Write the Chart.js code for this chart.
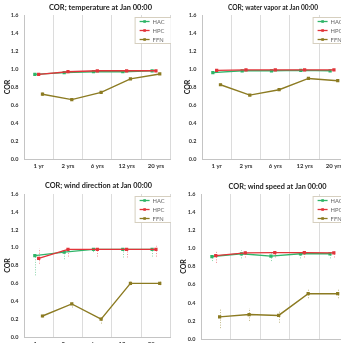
<!DOCTYPE html>
<html>
<head>
<meta charset="utf-8">
<script src="https://cdn.jsdelivr.net/npm/chart.js@4.4.0/dist/chart.umd.min.js"></script>
<style>
html, body { margin: 0; padding: 0; background: #fff; width: 341px; height: 343px; overflow: hidden; position: relative; }
canvas { position: absolute; }
</style>
</head>
<body>
<canvas id="c0" width="176" height="172" style="left:0px;top:0px"></canvas>
<canvas id="c1" width="183" height="172" style="left:171px;top:0px"></canvas>
<canvas id="c2" width="176" height="180" style="left:0px;top:171px"></canvas>
<canvas id="c3" width="183" height="180" style="left:171px;top:171px"></canvas>
<script>
var cats = ['1 yr', '2 yrs', '6 yrs', '12 yrs', '20 yrs'];
var names = ['HAC', 'HPC', 'FFN'];
var colors = ['#2fb468', '#e2343a', '#8c7b22'];

// temperature
var tempHAC = [0.94, 0.96, 0.97, 0.97, 0.98];
var tempHPC = [0.94, 0.97, 0.98, 0.98, 0.98];
var tempFFN = [0.72, 0.66, 0.74, 0.89, 0.945];
var tempFFNerr = [[0.70, 0.75], null, null, null, null];

// water vapor
var vapHAC = [0.96, 0.98, 0.98, 0.985, 0.98];
var vapHPC = [0.985, 0.99, 0.99, 0.99, 0.99];
var vapFFN = [0.825, 0.71, 0.77, 0.895, 0.87];

// wind direction
var dirHAC = [0.91, 0.95, 0.98, 0.98, 0.98];
var dirHPC = [0.88, 0.98, 0.98, 0.98, 0.98];
var dirFFN = [0.235, 0.37, 0.20, 0.60, 0.60];
var dirHACerr = [[0.69, 0.93], [0.87, 0.97], [0.95, 1.0], [0.89, 0.99], [0.90, 0.99]];
var dirHPCerr = [[0.82, 0.99], [0.90, 1.01], [0.90, 1.0], [0.89, 1.0], [0.90, 1.02]];
var dirFFNerr = [[0.22, 0.25], [0.33, 0.39], [0.15, 0.22], [0.58, 0.62], [0.58, 0.62]];

// wind speed
var spdHAC = [0.91, 0.94, 0.915, 0.94, 0.94];
var spdHPC = [0.92, 0.95, 0.953, 0.953, 0.95];
var spdFFN = [0.244, 0.27, 0.26, 0.50, 0.50];
var spdHACerr = [[0.86, 0.94], [0.89, 0.98], [0.86, 0.95], [0.89, 0.97], [0.89, 0.97]];
var spdHPCerr = [[0.84, 0.97], [0.90, 0.98], [0.90, 0.98], [0.90, 0.98], [0.90, 0.98]];
var spdFFNerr = [[0.12, 0.34], [0.20, 0.34], [0.18, 0.31], [0.45, 0.55], [0.45, 0.55]];

var offs = [-0.13, 0, 0.13];
var FONT = 'Lato, "Open Sans", sans-serif';

var whiteBg = {
  id: 'whiteBg',
  beforeDraw: function(chart) {
    var ctx = chart.ctx;
    ctx.save();
    ctx.fillStyle = '#fff';
    ctx.fillRect(0, 0, chart.width, chart.height);
    ctx.restore();
  }
};

var errorBars = {
  id: 'errorBars',
  beforeDatasetsDraw: function(chart) {
    var ctx = chart.ctx, xs = chart.scales.x, ys = chart.scales.y;
    chart.data.datasets.forEach(function(ds) {
      if (!ds.err) return;
      ctx.save();
      ctx.strokeStyle = ds.borderColor;
      ctx.globalAlpha = 0.55;
      ctx.lineWidth = 1;
      ctx.setLineDash([1, 1.5]);
      ds.err.forEach(function(e, i) {
        if (!e) return;
        var px = Math.round(xs.getPixelForValue(ds.data[i].x)) + 0.5;
        ctx.beginPath();
        ctx.moveTo(px, ys.getPixelForValue(e[0]));
        ctx.lineTo(px, ys.getPixelForValue(e[1]));
        ctx.stroke();
      });
      ctx.restore();
    });
  }
};

var panelDeco = {
  id: 'panelDeco',
  afterDraw: function(chart) {
    var ctx = chart.ctx, a = chart.chartArea;
    var o = chart.options.plugins.panelDeco;
    ctx.save();
    // title
    ctx.fillStyle = '#222';
    ctx.font = 'bold 8px ' + FONT;
    ctx.textAlign = 'center';
    ctx.textBaseline = 'middle';
    ctx.fillText(o.title, o.titleX, o.titleY, o.titleW);
    // legend
    var x0 = a.right - 36, y0 = a.top + 2;
    ctx.fillStyle = '#fff';
    ctx.fillRect(x0, y0, 40, 26);
    ctx.strokeStyle = '#d6cfbf';
    ctx.lineWidth = 1;
    ctx.strokeRect(x0 + 0.5, y0 + 0.5, 40, 26);
    ctx.font = '5.8px ' + FONT;
    ctx.textAlign = 'left';
    chart.data.datasets.forEach(function(ds, i) {
      var y = y0 + 4.5 + i * 9;
      ctx.strokeStyle = ds.borderColor;
      ctx.lineWidth = 1.3;
      ctx.beginPath();
      ctx.moveTo(x0 + 5, y);
      ctx.lineTo(x0 + 15, y);
      ctx.stroke();
      ctx.fillStyle = ds.borderColor;
      ctx.fillRect(x0 + 8.7, y - 1.3, 2.6, 2.6);
      ctx.fillStyle = '#666';
      ctx.fillText(ds.label, x0 + 18, y + 0.3);
    });
    if (o.edge) {
      ctx.strokeStyle = '#c8c8c8';
      ctx.beginPath();
      ctx.moveTo(o.edge, a.top);
      ctx.lineTo(o.edge, a.bottom);
      ctx.stroke();
    }
    ctx.restore();
  }
};

function makeChart(id, title, series, errs, lay) {
  var datasets = series.map(function(vals, k) {
    return {
      label: names[k],
      data: vals.map(function(v, i) { return { x: i + offs[k], y: v }; }),
      err: errs[k],
      borderColor: colors[k],
      backgroundColor: colors[k],
      borderWidth: 1.4,
      pointStyle: 'rect',
      pointRadius: 1.3,
      showLine: true,
      order: [1, 0, 2][k]
    };
  });
  new Chart(document.getElementById(id), {
    type: 'scatter',
    data: { datasets: datasets },
    plugins: [whiteBg, errorBars, panelDeco],
    options: {
      responsive: false,
      animation: false,
      layout: { padding: { top: lay.top, right: lay.right, left: 0, bottom: 0 } },
      plugins: {
        legend: { display: false },
        tooltip: { enabled: false },
        panelDeco: { title: title, titleX: lay.titleX, titleY: lay.titleY, titleW: lay.titleW, edge: lay.edge }
      },
      scales: {
        x: {
          type: 'linear',
          min: -0.5,
          max: 4.5,
          afterBuildTicks: function(s) {
            var t = [];
            for (var v = -0.5; v <= 4.5; v += 0.5) t.push({ value: v });
            s.ticks = t;
          },
          afterFit: function(s) { s.height = lay.xH; },
          grid: {
            drawTicks: false,
            lineWidth: 1,
            color: function(c) {
              return c.tick && !Number.isInteger(c.tick.value) ? '#dcdcdc' : 'rgba(0,0,0,0)';
            }
          },
          border: { display: true, color: '#c4c4c4' },
          ticks: {
            autoSkip: false,
            maxRotation: 0,
            padding: 3,
            color: '#333',
            font: { family: FONT, size: 6, weight: 'bold' },
            callback: function(v) { return Number.isInteger(v) ? cats[v] : ''; }
          }
        },
        y: {
          min: 0,
          max: 1.6,
          afterFit: function(s) { s.width = lay.yW; },
          grid: { display: false, drawTicks: false },
          border: { display: true, color: '#c4c4c4' },
          ticks: {
            stepSize: 0.2,
            padding: 5.5,
            color: '#333',
            font: { family: FONT, size: 5.5, weight: 'bold' },
            callback: function(v) { return v.toFixed(1); }
          },
          title: {
            display: true,
            text: 'COR',
            color: '#222',
            padding: { top: lay.tPad, bottom: 0 },
            font: { family: FONT, size: 7, weight: 'bold' }
          }
        }
      }
    }
  });
}

makeChart('c0', 'COR; temperature at Jan 00:00', [tempHAC, tempHPC, tempFFN], [null, null, tempFFNerr],
  { top: 15, right: 2, xH: 13, yW: 24, titleX: 100.5, titleY: 7.5, titleW: 103, tPad: 4, edge: 171.5 });
makeChart('c1', 'COR; water vapor at Jan 00:00', [vapHAC, vapHPC, vapFFN], [null, null, null],
  { top: 15, right: 2, xH: 13, yW: 31, titleX: 102, titleY: 7.5, titleW: 90, tPad: 13 });
makeChart('c2', 'COR; wind direction at Jan 00:00', [dirHAC, dirHPC, dirFFN], [dirHACerr, dirHPCerr, dirFFNerr],
  { top: 23, right: 2, xH: 14, yW: 24, titleX: 98.5, titleY: 14.7, titleW: 107, tPad: 4, edge: 171.5 });
makeChart('c3', 'COR; wind speed at Jan 00:00', [spdHAC, spdHPC, spdFFN], [spdHACerr, spdHPCerr, spdFFNerr],
  { top: 23, right: 3, xH: 12, yW: 30, titleX: 106.5, titleY: 15.7, titleW: 98, tPad: 9 });
</script>
</body>
</html>
